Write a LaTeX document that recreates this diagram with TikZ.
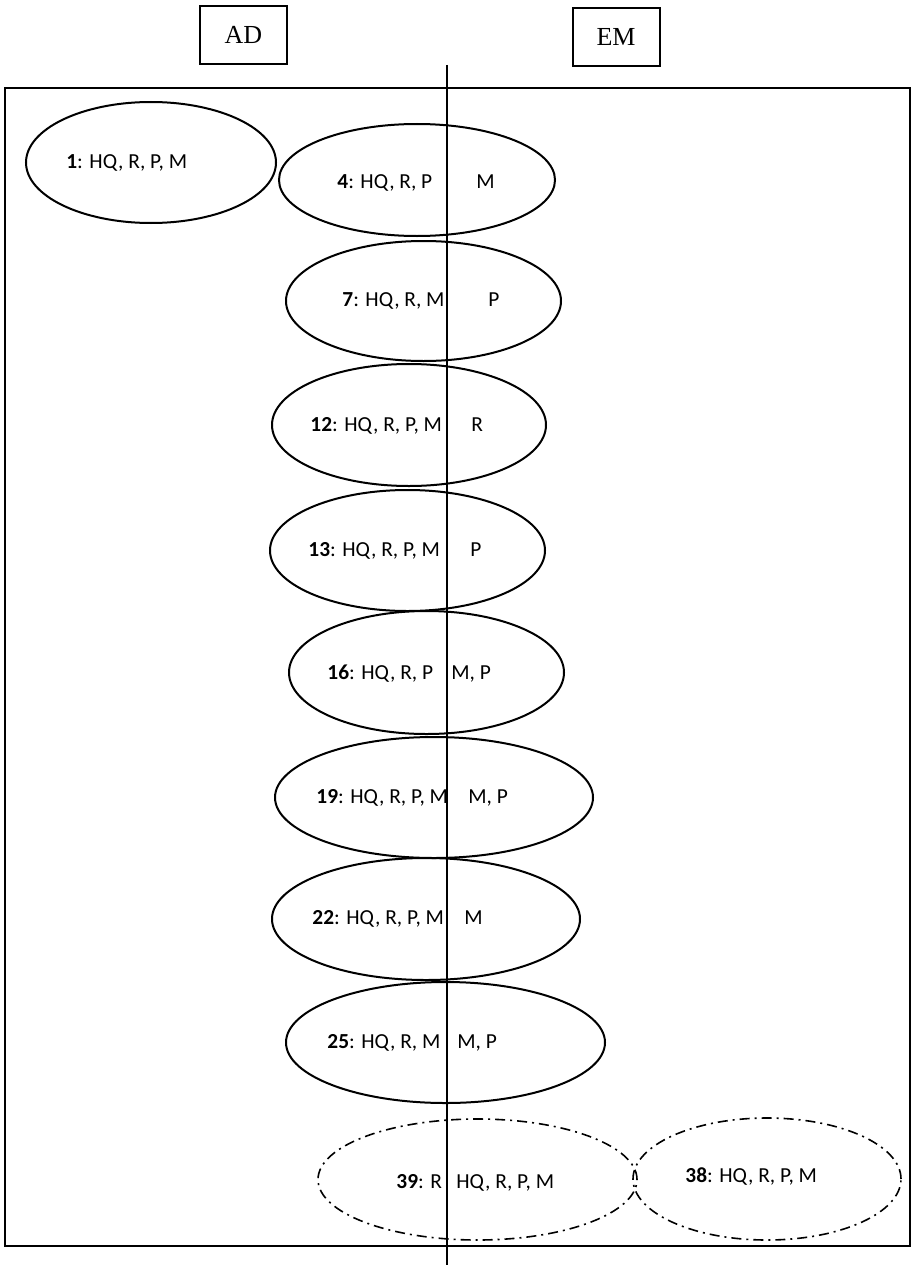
\documentclass[tikz,border=0pt]{standalone}
\usepackage{fontspec}
\setmainfont{Carlito}
\newfontfamily\headfont{Liberation Serif}
\usetikzlibrary{shapes.geometric}

\begin{document}
\begin{tikzpicture}[
  x=0.5pt, y=-0.5pt,
  zone/.style ={ellipse, draw, line width=1pt, inner sep=0pt},
  maybe/.style={ellipse, draw, line width=0.8pt, inner sep=0pt,
                dash pattern=on 5pt off 2.5pt on 1pt off 2.5pt},
  dims/.style 2 args={minimum width=#1pt, minimum height=#2pt},
  head/.style ={rectangle, draw, line width=1pt, minimum width=43.5pt,
                minimum height=29pt, font=\headfont\fontsize{13}{15}\selectfont},
  txt/.style  ={anchor=base west, inner sep=0pt, font=\fontsize{10.7}{12}\selectfont}
]
\useasboundingbox (0,0) rectangle (913,1268);

% column headers
\node[head] (ad) at (243.5,35) {AD};
\node[head] (em) at (616,37)   {EM};

% frame and divider
\draw[line width=1pt] (5,88) rectangle (910,1246);
\coordinate (divtop) at (447,65);
\coordinate (divbot) at (447,1265);

% structures
\node[zone,  dims={125}{60.5}]   (e1)  at (151,162.5)   {};
\node[zone,  dims={138}{56}]     (e4)  at (417,180)     {};
\node[zone,  dims={137.5}{60}]   (e7)  at (423.5,301)   {};
\node[zone,  dims={137}{61}]     (e12) at (409,425)     {};
\node[zone,  dims={137.5}{60.5}] (e13) at (407.5,550.5) {};
\node[zone,  dims={137.5}{61.5}] (e16) at (426.5,672.5) {};
\node[zone,  dims={159}{60.5}]   (e19) at (434,797.5)   {};
\node[zone,  dims={154}{61}]     (e22) at (426,919)     {};
\node[zone,  dims={159.5}{60.5}] (e25) at (445.5,1042.5){};
\node[maybe, dims={159.5}{60.5}] (e39) at (477.5,1179.5){};
\node[maybe, dims={134}{61}]     (e38) at (767,1179)    {};

\draw[line width=1pt] (divtop) -- (divbot);

% labels, left and right of the divider
\node[txt] (t1)   at (66,168)   {\textbf{1}: HQ, R, P, M};
\node[txt] (t4a)  at (337,188)  {\textbf{4}: HQ, R, P};
\node[txt] (t4b)  at (476,188)  {M};
\node[txt] (t7a)  at (342,306)  {\textbf{7}: HQ, R, M};
\node[txt] (t7b)  at (488,306)  {P};
\node[txt] (t12a) at (310,431)  {\textbf{12}: HQ, R, P, M};
\node[txt] (t12b) at (471,431)  {R};
\node[txt] (t13a) at (308,556)  {\textbf{13}: HQ, R, P, M};
\node[txt] (t13b) at (470,556)  {P};
\node[txt] (t16a) at (327,679)  {\textbf{16}: HQ, R, P};
\node[txt] (t16b) at (451,679)  {M, P};
\node[txt] (t19a) at (316,803)  {\textbf{19}: HQ, R, P, M};
\node[txt] (t19b) at (468,803)  {M, P};
\node[txt] (t22a) at (312,924)  {\textbf{22}: HQ, R, P, M};
\node[txt] (t22b) at (464,924)  {M};
\node[txt] (t25a) at (327,1048) {\textbf{25}: HQ, R, M};
\node[txt] (t25b) at (457,1048) {M, P};
\node[txt] (t39a) at (396,1188) {\textbf{39}: R};
\node[txt] (t39b) at (456,1188) {HQ, R, P, M};
\node[txt] (t38)  at (685,1182) {\textbf{38}: HQ, R, P, M};
\end{tikzpicture}
\end{document}
